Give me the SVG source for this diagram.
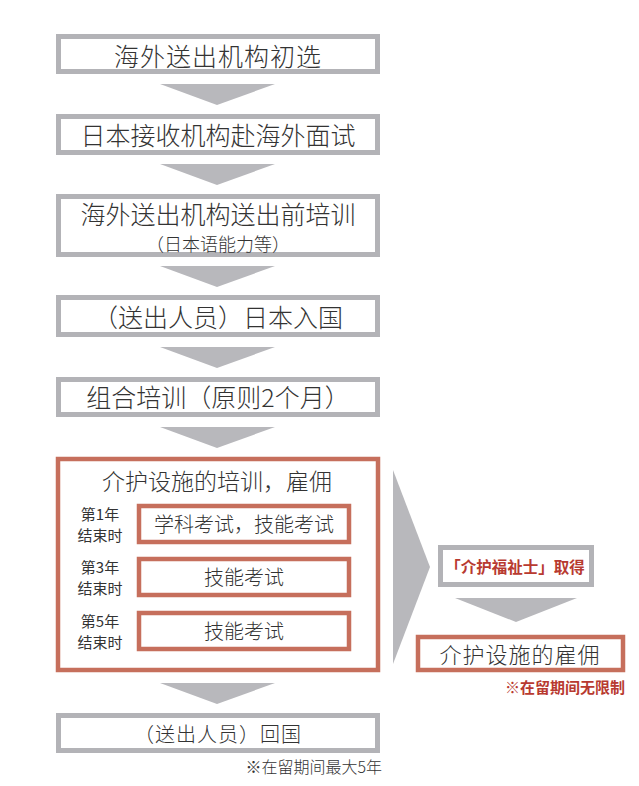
<svg xmlns="http://www.w3.org/2000/svg" width="639" height="786" viewBox="0 0 639 786">
<style>
.gbox{fill:#fff;stroke:#b3b3b7;stroke-width:5}
.rbox{fill:#fff;stroke:#c66f5c;stroke-width:4.5}
.arr{fill:#b8b8bc}
.t{font-family:"Noto Sans CJK SC","Noto Sans",sans-serif;fill:#333;text-anchor:middle;font-weight:300}
.lbl{font-family:"Noto Sans CJK SC","Noto Sans",sans-serif;fill:#333;text-anchor:middle;font-size:15px}
.red{font-family:"Noto Sans CJK SC",sans-serif;fill:#b83a30;font-weight:bold}
</style>
<rect width="639" height="786" fill="#fff"/>
<g id="connectors">
<polygon class="arr" points="160,84 275,84 217,105"/>
<polygon class="arr" points="160,164 275,164 217,185"/>
<polygon class="arr" points="160,266 275,266 217,287"/>
<polygon class="arr" points="160,347 275,347 217,368"/>
<polygon class="arr" points="160,427 275,427 217,448"/>
<polygon class="arr" points="160,683 275,683 217,704"/>
<polygon class="arr" points="393,470 430,567 393,664"/>
<polygon class="arr" points="455,598 577,598 516,622"/>
</g>
<g id="n1"><rect class="gbox" x="58.5" y="36.5" width="319" height="35"/><text class="t" x="218" y="66" font-size="25" letter-spacing="1">海外送出机构初选</text></g>
<g id="n2"><rect class="gbox" x="58.5" y="116.5" width="319" height="36"/><text class="t" x="218" y="145" font-size="25">日本接收机构赴海外面试</text></g>
<g id="n3"><rect class="gbox" x="58.5" y="196.5" width="319" height="58"/><text class="t" x="218" y="224" font-size="25">海外送出机构送出前培训</text><text class="t" x="218" y="251" font-size="18">（日本语能力等）</text></g>
<g id="n4"><rect class="gbox" x="58.5" y="297.5" width="319" height="37"/><text class="t" x="218" y="327" font-size="25">（送出人员）日本入国</text></g>
<g id="n5"><rect class="gbox" x="58.5" y="379.5" width="319" height="35"/><text class="t" x="218" y="407" font-size="25">组合培训（原则2个月）</text></g>
<g id="n6">
<rect class="rbox" x="58" y="459" width="320" height="211"/>
<text class="t" x="217" y="490" font-size="23">介护设施的培训，雇佣</text>
<text class="lbl" x="100" y="520">第1年</text><text class="lbl" x="100" y="541">结束时</text>
<text class="lbl" x="100" y="573">第3年</text><text class="lbl" x="100" y="594">结束时</text>
<text class="lbl" x="100" y="627">第5年</text><text class="lbl" x="100" y="648">结束时</text>
<rect class="rbox" x="139" y="506" width="210" height="36"/>
<text class="t" x="244" y="532" font-size="20">学科考试，技能考试</text>
<rect class="rbox" x="139" y="559" width="210" height="36"/>
<text class="t" x="244" y="585" font-size="20">技能考试</text>
<rect class="rbox" x="139" y="613" width="210" height="36"/>
<text class="t" x="244" y="639" font-size="20">技能考试</text>
</g>
<g id="n7"><rect class="gbox" x="58.5" y="715.5" width="319" height="35"/><text class="t" x="218" y="742" font-size="20" letter-spacing="1">（送出人员）回国</text><text class="t" x="382" y="773" font-size="16" style="text-anchor:end">※在留期间最大5年</text></g>
<g id="n8"><rect class="gbox" x="440.5" y="547.5" width="151" height="37"/><text class="red" x="515" y="573" font-size="15.5" text-anchor="middle">「介护福祉士」取得</text></g>
<g id="n9"><rect class="rbox" x="418" y="637" width="205" height="33"/><text class="t" x="520" y="663" font-size="22" letter-spacing="1">介护设施的雇佣</text><text class="red" x="625" y="693" font-size="15" text-anchor="end">※在留期间无限制</text></g>
</svg>
